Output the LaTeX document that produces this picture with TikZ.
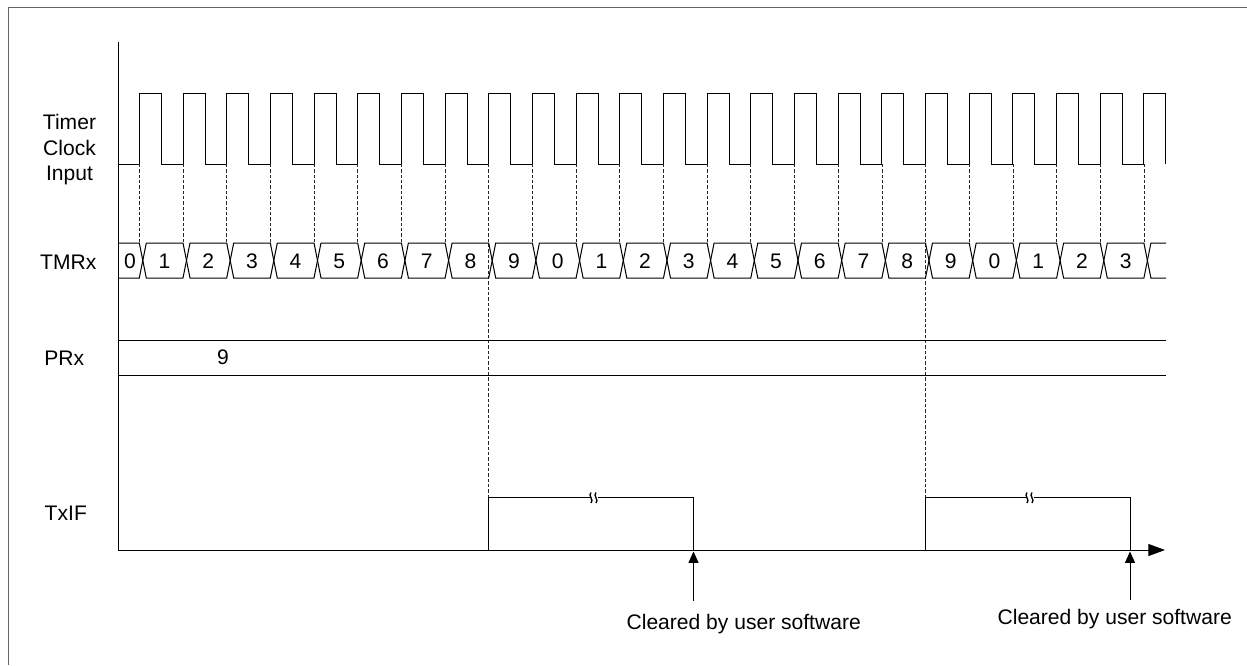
\documentclass[tikz,border=0pt]{standalone}
\usepackage{fontspec}
\setmainfont{Liberation Sans}
\usetikzlibrary{arrows.meta}

\tikzset{every picture/.style={line width=0.75pt}}
\tikzset{
  wave/.style={draw=black, line join=miter},
  guide/.style={draw=black!85, line width=0.6pt, dash pattern=on 2.5pt off 1.5pt},
  sigtext/.style={font=\fontsize{15.8}{19}\selectfont, inner sep=0pt, anchor=base},
  uparrow/.style={-{Triangle[length=8.5pt,width=7.5pt]}},
  axisarrow/.style={-{Triangle[length=12.5pt,width=9pt]}}
}

\begin{document}
\begin{tikzpicture}[x=0.75pt,y=0.75pt,yscale=-1,xscale=1]
\useasboundingbox (0,0) rectangle (1247,665);

%Frame
\draw [black!60] (8,665) -- (8,7) -- (1247,7) ;

%Axes
\draw (118,42) -- (118,550) ;
\draw [axisarrow] (118,550) -- (1165,550) ;

%Shape: Timer clock
\draw [wave] (118,164) -- (139.3,164) -- (139.3,93.5) -- (161.3,93.5) -- (161.3,164)
 -- (183,164) -- (183,93.5) -- (205,93.5) -- (205,164)
 -- (226.7,164) -- (226.7,93.5) -- (248.7,93.5) -- (248.7,164)
 -- (270.3,164) -- (270.3,93.5) -- (292.3,93.5) -- (292.3,164)
 -- (314,164) -- (314,93.5) -- (336,93.5) -- (336,164)
 -- (357.7,164) -- (357.7,93.5) -- (379.7,93.5) -- (379.7,164)
 -- (401.4,164) -- (401.4,93.5) -- (423.4,93.5) -- (423.4,164)
 -- (445.1,164) -- (445.1,93.5) -- (467.1,93.5) -- (467.1,164)
 -- (488.7,164) -- (488.7,93.5) -- (510.7,93.5) -- (510.7,164)
 -- (532.4,164) -- (532.4,93.5) -- (554.4,93.5) -- (554.4,164)
 -- (576.1,164) -- (576.1,93.5) -- (598.1,93.5) -- (598.1,164)
 -- (619.8,164) -- (619.8,93.5) -- (641.8,93.5) -- (641.8,164)
 -- (663.5,164) -- (663.5,93.5) -- (685.5,93.5) -- (685.5,164)
 -- (707.1,164) -- (707.1,93.5) -- (729.1,93.5) -- (729.1,164)
 -- (750.8,164) -- (750.8,93.5) -- (772.8,93.5) -- (772.8,164)
 -- (794.5,164) -- (794.5,93.5) -- (816.5,93.5) -- (816.5,164)
 -- (838.2,164) -- (838.2,93.5) -- (860.2,93.5) -- (860.2,164)
 -- (881.9,164) -- (881.9,93.5) -- (903.9,93.5) -- (903.9,164)
 -- (925.5,164) -- (925.5,93.5) -- (947.5,93.5) -- (947.5,164)
 -- (969.2,164) -- (969.2,93.5) -- (991.2,93.5) -- (991.2,164)
 -- (1012.9,164) -- (1012.9,93.5) -- (1034.9,93.5) -- (1034.9,164)
 -- (1056.6,164) -- (1056.6,93.5) -- (1078.6,93.5) -- (1078.6,164)
 -- (1100.3,164) -- (1100.3,93.5) -- (1122.3,93.5) -- (1122.3,164)
 -- (1143.9,164) -- (1143.9,93.5) -- (1165.9,93.5) -- (1165.9,164) ;

%Dashed Lines: clock edges
\draw [guide] (139.3,164) -- (139.3,243) (183,164) -- (183,243) (226.7,164) -- (226.7,243)
 (270.3,164) -- (270.3,243) (314,164) -- (314,243) (357.7,164) -- (357.7,243)
 (401.4,164) -- (401.4,243) (445.1,164) -- (445.1,243) (532.4,164) -- (532.4,243)
 (576.1,164) -- (576.1,243) (619.8,164) -- (619.8,243) (663.5,164) -- (663.5,243)
 (707.1,164) -- (707.1,243) (750.8,164) -- (750.8,243) (794.5,164) -- (794.5,243)
 (838.2,164) -- (838.2,243) (881.9,164) -- (881.9,243) (969.2,164) -- (969.2,243)
 (1012.9,164) -- (1012.9,243) (1056.6,164) -- (1056.6,243) (1100.3,164) -- (1100.3,243)
 (1143.9,164) -- (1143.9,243) ;
\draw [guide] (488.7,164) -- (488.7,497.7) (925.5,164) -- (925.5,497.7) ;

%Shape: TMRx bus
\draw [wave] (118,243) -- (139.3,243) -- (146.3,278) -- (183,278) -- (190,243) -- (226.7,243) -- (233.7,278)
 -- (270.3,278) -- (277.3,243) -- (314,243) -- (321,278) -- (357.7,278) -- (364.7,243)
 -- (401.4,243) -- (408.4,278) -- (445.1,278) -- (452.1,243) -- (488.7,243) -- (495.7,278)
 -- (532.4,278) -- (539.4,243) -- (576.1,243) -- (583.1,278) -- (619.8,278) -- (626.8,243)
 -- (663.5,243) -- (670.5,278) -- (707.1,278) -- (714.1,243) -- (750.8,243) -- (757.8,278)
 -- (794.5,278) -- (801.5,243) -- (838.2,243) -- (845.2,278) -- (881.9,278) -- (888.9,243)
 -- (925.5,243) -- (932.5,278) -- (969.2,278) -- (976.2,243) -- (1012.9,243) -- (1019.9,278)
 -- (1056.6,278) -- (1063.6,243) -- (1100.3,243) -- (1107.3,278) -- (1143.9,278) -- (1150.9,243) -- (1166,243) ;
\draw [wave] (118,278) -- (139.3,278) -- (146.3,243) -- (183,243) -- (190,278) -- (226.7,278) -- (233.7,243)
 -- (270.3,243) -- (277.3,278) -- (314,278) -- (321,243) -- (357.7,243) -- (364.7,278)
 -- (401.4,278) -- (408.4,243) -- (445.1,243) -- (452.1,278) -- (488.7,278) -- (495.7,243)
 -- (532.4,243) -- (539.4,278) -- (576.1,278) -- (583.1,243) -- (619.8,243) -- (626.8,278)
 -- (663.5,278) -- (670.5,243) -- (707.1,243) -- (714.1,278) -- (750.8,278) -- (757.8,243)
 -- (794.5,243) -- (801.5,278) -- (838.2,278) -- (845.2,243) -- (881.9,243) -- (888.9,278)
 -- (925.5,278) -- (932.5,243) -- (969.2,243) -- (976.2,278) -- (1012.9,278) -- (1019.9,243)
 -- (1056.6,243) -- (1063.6,278) -- (1100.3,278) -- (1107.3,243) -- (1143.9,243) -- (1150.9,278) -- (1166,278) ;

%Shape: PRx bus
\draw [wave] (118,340) -- (1166,340) (118,375) -- (1166,375) ;

%Shape: TxIF
\draw [wave] (488.7,550) -- (488.7,497.7) -- (589.5,497.7) (597.5,497.7) -- (693.5,497.7) -- (693.5,550) ;
\draw [wave] (925.5,550) -- (925.5,497.7) -- (1025.5,497.7) (1033.5,497.7) -- (1130,497.7) -- (1130,550) ;
%Break marks
\draw [wave, line width=1pt] (591,492.5) .. controls (587.5,495.5) and (594.5,500) .. (591,503)
 (596,492.5) .. controls (592.5,495.5) and (599.5,500) .. (596,503) ;
\draw [wave, line width=1pt] (1027,492.5) .. controls (1023.5,495.5) and (1030.5,500) .. (1027,503)
 (1032,492.5) .. controls (1028.5,495.5) and (1035.5,500) .. (1032,503) ;

%Arrows: cleared
\coordinate (clrtaila) at (693.5,601) ;
\coordinate (clrtipa) at (693.5,551.5) ;
\coordinate (clrtailb) at (1130,600) ;
\coordinate (clrtipb) at (1130,551.5) ;
\draw [uparrow] (clrtaila) -- (clrtipa) ;
\draw [uparrow] (clrtailb) -- (clrtipb) ;

% Text Node
\draw (69.5,149.7) node [sigtext, anchor=center, align=center] (clklbl) {Timer\\Clock\\Input};
% Text Node
\draw (68.3,269.3) node [sigtext] (tmrlbl) {TMRx};
% Text Node
\draw (64.3,365) node [sigtext] (prlbl) {PRx};
% Text Node
\draw (65.8,520) node [sigtext] (iflbl) {TxIF};
% Text Node
\draw (223,364.5) node [sigtext] (prval) {9};
% Text Node
\draw (743.7,629) node [sigtext] (clrlbla) {Cleared by user software};
% Text Node
\draw (1114.7,624) node [sigtext] (clrlblb) {Cleared by user software};

% Text Node: TMRx values
\draw (130,268.8) node [sigtext] (v0) {0};
\draw (164.6,268.8) node [sigtext] (v1) {1};
\draw (208.3,268.8) node [sigtext] (v2) {2};
\draw (252,268.8) node [sigtext] (v3) {3};
\draw (295.6,268.8) node [sigtext] (v4) {4};
\draw (339.3,268.8) node [sigtext] (v5) {5};
\draw (383,268.8) node [sigtext] (v6) {6};
\draw (426.7,268.8) node [sigtext] (v7) {7};
\draw (470.4,268.8) node [sigtext] (v8) {8};
\draw (514,268.8) node [sigtext] (v9) {9};
\draw (557.7,268.8) node [sigtext] (v10) {0};
\draw (601.4,268.8) node [sigtext] (v11) {1};
\draw (645.1,268.8) node [sigtext] (v12) {2};
\draw (688.8,268.8) node [sigtext] (v13) {3};
\draw (732.4,268.8) node [sigtext] (v14) {4};
\draw (776.1,268.8) node [sigtext] (v15) {5};
\draw (819.8,268.8) node [sigtext] (v16) {6};
\draw (863.5,268.8) node [sigtext] (v17) {7};
\draw (907.2,268.8) node [sigtext] (v18) {8};
\draw (950.8,268.8) node [sigtext] (v19) {9};
\draw (994.5,268.8) node [sigtext] (v20) {0};
\draw (1038.2,268.8) node [sigtext] (v21) {1};
\draw (1081.9,268.8) node [sigtext] (v22) {2};
\draw (1125.6,268.8) node [sigtext] (v23) {3};

\end{tikzpicture}
\end{document}
